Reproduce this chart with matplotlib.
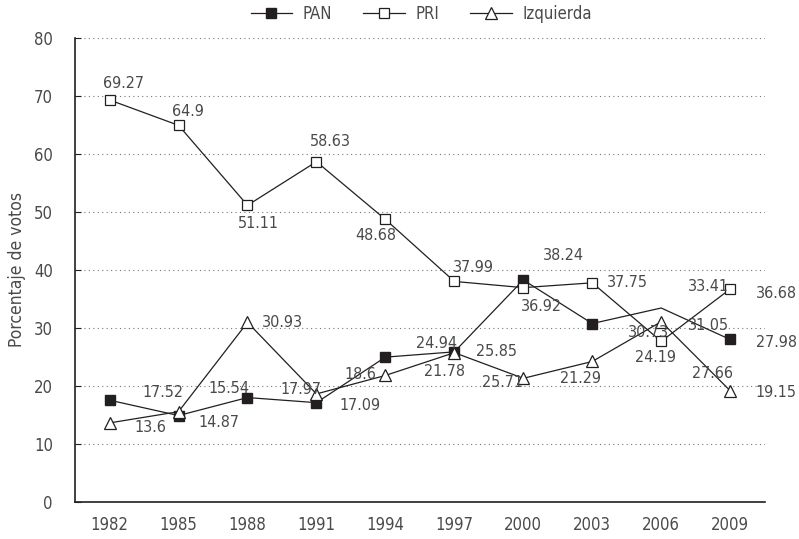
import matplotlib
matplotlib.use("Agg")
import matplotlib.pyplot as plt

plt.rcParams["font.family"] = ["DejaVu Sans"]
plt.rcParams["font.stretch"] = "condensed"

# election years and vote shares (%)
years = ["1982", "1985", "1988", "1991", "1994", "1997", "2000", "2003", "2006", "2009"]
pan = [17.52, 14.87, 17.97, 17.09, 24.94, 25.85, 38.24, 30.73, 33.41, 27.98]
pri = [69.27, 64.9, 51.11, 58.63, 48.68, 37.99, 36.92, 37.75, 27.66, 36.68]
izquierda = [13.6, 15.54, 30.93, 18.6, 21.78, 25.71, 21.29, 24.19, 31.05, 19.15]

# label offsets in pixels (dx, dy) from each point, as placed in the original
pan_off = [(53, 8), (40, -7), (53, 8), (44, -3), (51, 14),
           (42, 0), (40, 24), (56, -9), (47, 21), (46, -3)]
pri_off = [(14, 16), (9, 14), (11, -18), (14, 20), (-10, -16),
           (19, 14), (18, -19), (35, 0), (51, -32), (46, -4)]
izq_off = [(41, -5), (50, 23), (35, 0), (44, 19), (59, 4),
           (48, -30), (57, 0), (63, 4), (47, -4), (46, -2)]

ink = "#231f20"
txt = "#4a4a4a"

fig = plt.figure(figsize=(7.99, 5.39), dpi=100)
ax = fig.add_axes([0.094, 0.069, 0.863, 0.861])

x = list(range(len(years)))
ax.plot(x, pan, color=ink, lw=0.9, marker="s", ms=7, mfc=ink, mec=ink,
        markevery=[0, 1, 2, 3, 4, 5, 6, 7, 9], label="PAN", zorder=3)
ax.plot(x, pri, color=ink, lw=0.9, marker="s", ms=7, mfc="white", mec=ink,
        mew=0.9, label="PRI", zorder=4)
ax.plot(x, izquierda, color=ink, lw=0.9, marker="^", ms=8.5, mfc="white",
        mec=ink, mew=0.9, label="Izquierda", zorder=5)

for vals, offs in [(pan, pan_off), (pri, pri_off), (izquierda, izq_off)]:
    for i, v in enumerate(vals):
        ax.annotate(str(v), (i, v), xytext=offs[i], textcoords="offset pixels",
                    ha="center", va="center", fontsize=11.5, color=txt, zorder=6)

ax.set_xlim(-0.5, len(years) - 0.5)
ax.set_ylim(0, 80)
ax.set_xticks(x)
ax.set_xticklabels(years)
ax.set_yticks(range(0, 81, 10))
ax.tick_params(axis="y", direction="in", length=4, color=ink, labelsize=12,
               labelcolor=txt, pad=16)
ax.tick_params(axis="x", length=0, labelsize=12, labelcolor=txt, pad=10)
for v in range(10, 81, 10):
    ax.axhline(v, color="#777777", lw=0.8, ls=(0, (1, 3)), zorder=1)
ax.spines["top"].set_visible(False)
ax.spines["right"].set_visible(False)
ax.spines["left"].set_color(ink)
ax.spines["bottom"].set_color(ink)
ax.spines["left"].set_linewidth(1.2)
ax.spines["bottom"].set_linewidth(1.2)
ax.set_ylabel("Porcentaje de votos", fontsize=12.5, color=txt, labelpad=6)

leg = fig.legend(loc="center", bbox_to_anchor=(0.527, 0.974), ncol=3,
                 frameon=False, fontsize=12, handlelength=2.5,
                 handletextpad=0.6, columnspacing=1.9)
for t in leg.get_texts():
    t.set_color(txt)

fig.savefig("out.png", dpi=100)
